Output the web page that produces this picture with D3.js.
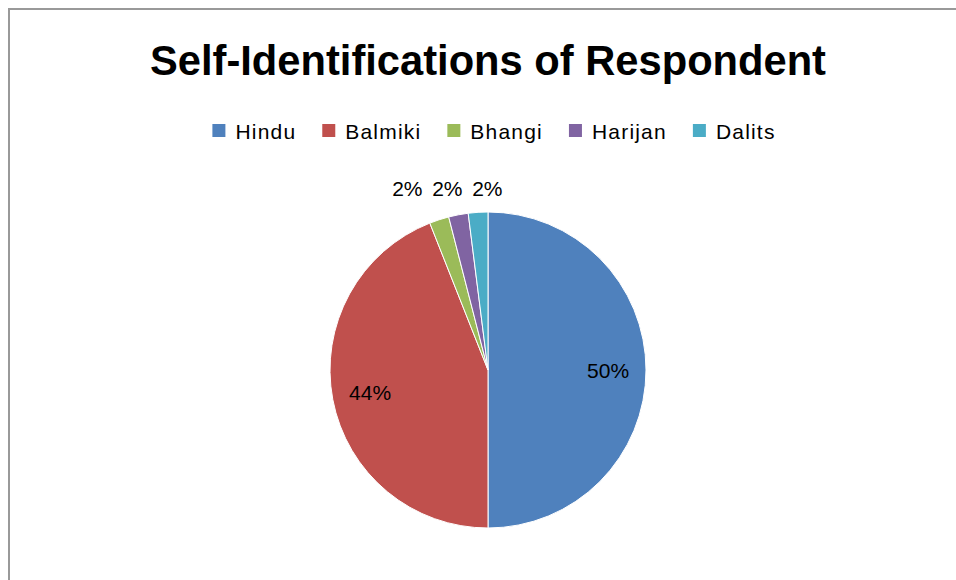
<!DOCTYPE html>
<html>
<head>
<meta charset="utf-8">
<script src="https://cdn.jsdelivr.net/npm/d3@7"></script>
<style>
  html, body { margin: 0; padding: 0; background: #fff; }
  svg { display: block; }
  text { font-family: "Liberation Sans", Arial, sans-serif; fill: #000; }
</style>
</head>
<body>
<svg id="chart" width="956" height="580"></svg>
<script>
// Self-identification shares (percent)
const categories = ["Hindu", "Balmiki", "Bhangi", "Harijan", "Dalits"];
const shares = [50, 44, 2, 2, 2];
const colors = ["#4F81BD", "#C0504D", "#9BBB59", "#8064A2", "#4BACC6"];
const titleText = "Self-Identifications of Respondent";

const W = 956, H = 580;
const svg = d3.select("#chart");

// chart frame (extends past the right and bottom edges)
svg.append("rect")
  .attr("x", 9).attr("y", 9)
  .attr("width", W + 20).attr("height", H + 20)
  .attr("fill", "#fff")
  .attr("stroke", "#999").attr("stroke-width", 2);

// title
svg.append("text")
  .attr("x", 488).attr("y", 75)
  .attr("text-anchor", "middle")
  .attr("font-size", 42).attr("font-weight", "bold")
  .attr("textLength", 676).attr("lengthAdjust", "spacingAndGlyphs")
  .text(titleText);

// legend
const color = d3.scaleOrdinal().domain(categories).range(colors);
const legend = svg.append("g");
const sw = 13, gapText = 10, gapItem = 26;
let lx = 0;
categories.forEach(c => {
  const g = legend.append("g").attr("transform", `translate(${lx},0)`);
  g.append("rect").attr("x", 0).attr("y", -7).attr("width", sw).attr("height", sw)
    .attr("fill", color(c));
  const t = g.append("text").attr("x", sw + gapText).attr("y", 0)
    .attr("dy", "0.36em").attr("font-size", 21).attr("letter-spacing", 1.2)
    .text(c);
  lx += sw + gapText + t.node().getComputedTextLength() + gapItem;
});
const legendW = lx - gapItem;
legend.attr("transform", `translate(${494 - legendW / 2},131)`);

// pie
const cx = 488, cy = 370, r = 158;
const pie = d3.pie().sort(null).value(d => d.v);
const data = categories.map((c, i) => ({ c, v: shares[i] }));
const arcs = pie(data);
const arc = d3.arc().innerRadius(0).outerRadius(r);

const gp = svg.append("g").attr("transform", `translate(${cx},${cy})`);
gp.selectAll("path").data(arcs).join("path")
  .attr("d", arc)
  .attr("fill", d => color(d.data.c))
  .attr("stroke", "#fff").attr("stroke-width", 1);

const fmt = v => d3.format(".0f")(v) + "%";

// labels inside the large slices
const inArc = d3.arc().innerRadius(r * 0.76).outerRadius(r * 0.76);
const big = arcs.filter(d => d.data.v >= 10);
gp.selectAll("text.in").data(big).join("text")
  .attr("class", "in")
  .attr("x", d => inArc.centroid(d)[0])
  .attr("y", d => inArc.centroid(d)[1])
  .attr("text-anchor", "middle").attr("dy", "0.36em")
  .attr("font-size", 21)
  .text(d => fmt(d.data.v));

// labels outside the small slices, spread apart so they do not overlap
const outArc = d3.arc().innerRadius(r + 60).outerRadius(r + 60);
const small = arcs.filter(d => d.data.v < 10)
  .map(d => ({ d, x: outArc.centroid(d)[0] }))
  .sort((a, b) => a.x - b.x);
const minGap = 40;
const meanX = d3.mean(small, s => s.x);
small.forEach((s, i) => { s.x = meanX + (i - (small.length - 1) / 2) * minGap; });
gp.selectAll("text.out").data(small).join("text")
  .attr("class", "out")
  .attr("x", s => s.x)
  .attr("y", -r - 24)
  .attr("text-anchor", "middle").attr("dy", "0.36em")
  .attr("font-size", 21)
  .text(s => fmt(s.d.data.v));
</script>
</body>
</html>
